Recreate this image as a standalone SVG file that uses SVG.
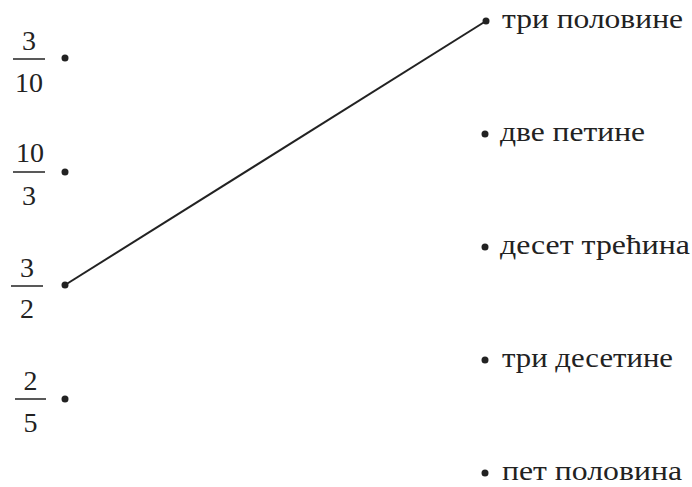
<svg xmlns="http://www.w3.org/2000/svg" width="692" height="487" viewBox="0 0 692 487">
<style>
text{font-family:"Liberation Serif","DejaVu Serif",serif;font-size:28px;fill:#222}
.n{text-anchor:middle}
.bar{stroke:#222;stroke-width:1.5}
.dot{fill:#222}
.ln{stroke:#222;stroke-width:2;fill:none}
</style>
<rect width="692" height="487" fill="#fff"/>
<g id="left1"><text class="n" x="29" y="50">3</text><line class="bar" x1="13" y1="59" x2="45" y2="59"/><text class="n" x="29" y="92">10</text><circle class="dot" cx="65" cy="58" r="3.5"/></g>
<g id="left2"><text class="n" x="30" y="162">10</text><line class="bar" x1="13" y1="172" x2="45" y2="172"/><text class="n" x="29" y="205">3</text><circle class="dot" cx="65" cy="172" r="3.5"/></g>
<g id="left3"><text class="n" x="27" y="277">3</text><line class="bar" x1="11" y1="286" x2="43" y2="286"/><text class="n" x="27" y="318">2</text><circle class="dot" cx="65" cy="285" r="3.5"/></g>
<g id="left4"><text class="n" x="30.5" y="390">2</text><line class="bar" x1="15" y1="399" x2="46" y2="399"/><text class="n" x="30.5" y="432">5</text><circle class="dot" cx="65" cy="399" r="3.5"/></g>
<g id="right1"><circle class="dot" cx="486" cy="21" r="3.5"/><text x="502" y="28" textLength="181" lengthAdjust="spacingAndGlyphs">три половине</text></g>
<g id="right2"><circle class="dot" cx="485" cy="134" r="3.5"/><text x="500" y="141" textLength="145" lengthAdjust="spacingAndGlyphs">две петине</text></g>
<g id="right3"><circle class="dot" cx="485" cy="247" r="3.5"/><text x="500" y="254" textLength="190" lengthAdjust="spacingAndGlyphs">десет трећина</text></g>
<g id="right4"><circle class="dot" cx="485" cy="360" r="3.5"/><text x="502" y="367" textLength="171" lengthAdjust="spacingAndGlyphs">три десетине</text></g>
<g id="right5"><circle class="dot" cx="485" cy="473" r="3.5"/><text x="502" y="480" textLength="180" lengthAdjust="spacingAndGlyphs">пет половина</text></g>
<g id="connectors"><line class="ln" x1="65" y1="285" x2="486" y2="21"/></g>
</svg>
